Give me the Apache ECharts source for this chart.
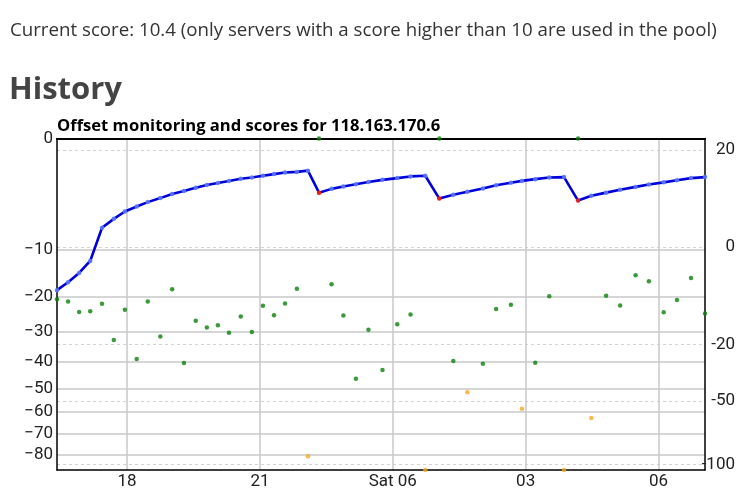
<!DOCTYPE html>
<html>
<head>
<meta charset="utf-8">
<script src="https://cdn.jsdelivr.net/npm/echarts@6/dist/echarts.min.js"></script>
<style>
  html, body { margin: 0; padding: 0; background: #fff; }
  #chart { width: 747px; height: 495px; }
</style>
</head>
<body>
<div id="chart"></div>
<script>
// ---- data ----
const times = ["16:25","16:40","16:55","17:10","17:26","17:42","17:57","18:13","18:28","18:45",
  "19:01","19:17","19:33","19:48","20:03","20:18","20:34","20:49","21:04","21:19",
  "21:34","21:50","22:05","22:20","22:37","22:53","23:10","23:27","23:46","00:06",
  "00:24","00:44","01:03","01:22","01:41","02:02","02:20","02:40","02:55","03:13",
  "03:32","03:52","04:11","04:29","04:49","05:08","05:29","05:47","06:07","06:25",
  "06:44","07:03"];
const scores = [-3.9,-2.6,-1.4,-0.4,0.8,1.7,2.7,3.5,4.3,5.1,
  6.0,6.7,7.5,8.2,8.7,9.3,9.9,10.3,10.8,11.3,
  11.8,12.0,12.4,6.3,7.2,7.8,8.4,9.0,9.6,10.1,
  10.6,10.8,5.0,5.8,6.5,7.3,8.1,8.8,9.3,9.8,
  10.3,10.4,4.6,5.6,6.3,7.0,7.7,8.3,8.9,9.5,
  10.1,10.4];
const offsets = [-20.7,-21.3,-24.1,-23.9,-21.9,-32.5,-23.5,-38.9,-21.3,-31.4,
  -18.2,-40.4,-26.6,-28.6,-27.9,-30.2,-25.4,-30.0,-22.4,-25.0,
  -21.8,-18.1,-80.8,0,-17.0,-25.1,-46.2,-29.3,-42.9,-27.6,
  -24.8,-88,0,-39.6,-51.6,-40.6,-23.3,-22.1,-58.5,-40.3,
  -19.9,-88,0,-62.6,-19.8,-22.3,-15.0,-16.3,-24.2,-20.9,
  -15.6,-24.5];
const xTickTimes = ["18:00","21:00","00:00","03:00","06:00"];
const xTickLabels = ["18","21","Sat 06","03","06"];
const offsetTicks = [0,-10,-20,-30,-40,-50,-60,-70,-80];
const scoreTicks = [20,0,-20,-50,-100];
const offsetDomain = [-88, 0];
const scoreDomain = [-105, 25];
const offsetWarn = -50;

// ---- helpers ----
function toHours(list) {
  const out = []; let add = 0, prev = -1;
  for (const t of list) {
    const [h, m] = t.split(':').map(Number);
    let v = h + m / 60 + add;
    if (v < prev) { add += 24; v += 24; }
    out.push(v); prev = v;
  }
  return out;
}
// signed square-root scale, as used by the original graph
const sq = v => (v < 0 ? -Math.sqrt(-v) : Math.sqrt(v));
const unsq = t => (t < 0 ? -t * t : t * t);

const xs = toHours(times);
const tickXs = xTickTimes.map(t => {
  const [h, m] = t.split(':').map(Number);
  let v = h + m / 60;
  if (v < xs[0]) v += 24;
  return v;
});

const offsetData = xs.map((x, i) => [x, sq(offsets[i]), offsets[i]]);
const scoreData = xs.map((x, i) => [x, sq(scores[i]), scores[i], i > 0 && scores[i] < scores[i - 1] ? 1 : 0]);

const FONT = 'Roboto';
const HFONT = 'Open Sans';
const chart = echarts.init(document.getElementById('chart'), null, { renderer: 'canvas' });
chart.setOption({
  animation: false,
  title: [
    { text: 'Current score: 10.4 (only servers with a score higher than 10 are used in the pool)',
      left: 10, top: 21, padding: 0,
      textStyle: { fontFamily: HFONT, fontSize: 18.7, fontWeight: 'normal', color: '#333' } },
    { text: 'History', left: 9, top: 75, padding: 0,
      textStyle: { fontFamily: HFONT, fontSize: 31, fontWeight: 'bold', color: '#444' } },
    { text: 'Offset monitoring and scores for 118.163.170.6', left: 57, top: 118, padding: 0,
      textStyle: { fontFamily: HFONT, fontSize: 16.6, fontWeight: 'bold', color: '#000' } }
  ],
  grid: { left: 57, right: 42, top: 138.5, bottom: 25, containLabel: false },
  xAxis: [
    { type: 'value', min: 'dataMin', max: 'dataMax', position: 'bottom',
      axisLine: { show: true, onZero: false, lineStyle: { color: '#000', width: 1.5 } },
      axisTick: { show: false, customValues: tickXs },
      axisLabel: { customValues: tickXs, margin: 3, fontFamily: FONT, fontSize: 17, color: '#222',
        formatter: v => { const i = tickXs.findIndex(t => Math.abs(t - v) < 1e-6); return i >= 0 ? xTickLabels[i] : ''; } },
      splitLine: { show: true, lineStyle: { color: '#c8c8c8', width: 1.5 } } },
    { type: 'value', min: 'dataMin', max: 'dataMax', position: 'top', z: 1,
      axisLine: { show: true, onZero: false, lineStyle: { color: '#000', width: 2.2 } },
      axisTick: { show: false }, axisLabel: { show: false }, splitLine: { show: false } }
  ],
  yAxis: [
    { type: 'value', position: 'left', min: sq(offsetDomain[0]), max: sq(offsetDomain[1]),
      axisLine: { show: true, lineStyle: { color: '#000', width: 1.5 } },
      axisTick: { show: false, customValues: offsetTicks.map(sq) },
      axisLabel: { customValues: offsetTicks.map(sq), margin: 4, fontFamily: FONT, fontSize: 17, color: '#222',
        formatter: v => { const o = Math.round(unsq(v)); return o < 0 ? '\u2212' + (-o) : String(o); } },
      splitLine: { show: true, lineStyle: { color: '#c8c8c8', width: 1.5 } } },
    { type: 'value', position: 'right', min: sq(scoreDomain[0]), max: sq(scoreDomain[1]),
      axisLine: { show: true, lineStyle: { color: '#000', width: 1.5 } },
      axisTick: { show: false, customValues: scoreTicks.map(sq) },
      axisLabel: { customValues: scoreTicks.map(sq), margin: 30, align: 'right', fontFamily: FONT, fontSize: 17, color: '#222',
        formatter: v => String(Math.round(unsq(v))) },
      splitLine: { show: true, lineStyle: { color: '#d2d2d2', width: 1, type: [3, 3] } } }
  ],
  series: [
    { name: 'offset', type: 'scatter', xAxisIndex: 0, yAxisIndex: 0, data: offsetData,
      symbolSize: 4.5, clip: false, z: 3,
      itemStyle: { color: p => (p.data[2] < offsetWarn ? '#f5a91f' : '#0a820a') } },
    { name: 'score', type: 'line', xAxisIndex: 0, yAxisIndex: 1, data: scoreData,
      symbol: 'circle', symbolSize: 4.5, showSymbol: true, z: 4,
      lineStyle: { color: '#0000dd', width: 2.6 },
      itemStyle: { color: p => (p.data[3] ? '#dd2020' : 'rgba(90,120,255,0.9)'), borderWidth: 0 } }
  ]
});
</script>
</body>
</html>
